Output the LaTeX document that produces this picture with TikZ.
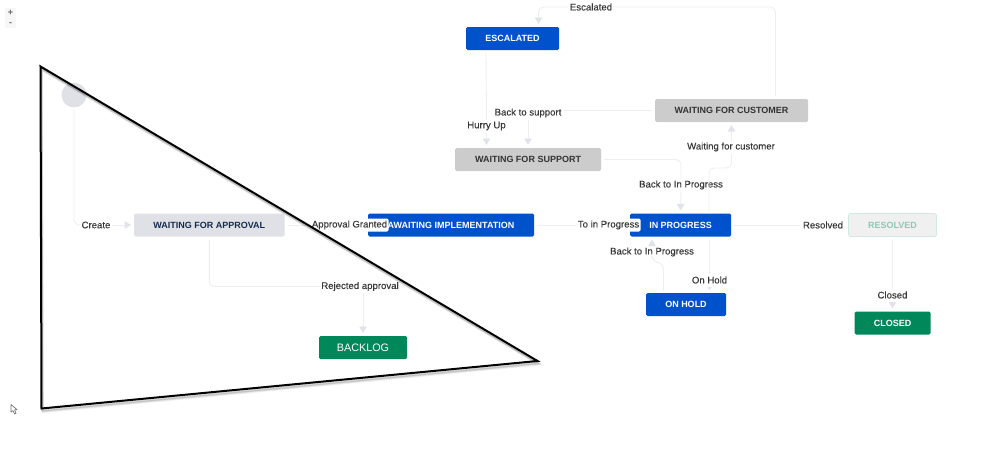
\documentclass[tikz,border=0pt]{standalone}
\usepackage{fontspec}
\setmainfont{Liberation Sans}
\newfontfamily\lblfont[FakeBold=0.1]{Liberation Sans}
\usetikzlibrary{arrows.meta,calc}
\definecolor{jblue}{HTML}{0052CC}
\definecolor{jgreen}{HTML}{00875A}
\definecolor{jgrey}{HTML}{CCCCCC}
\definecolor{jpale}{HTML}{DFE1E6}
\definecolor{jink}{HTML}{172B4D}
\definecolor{jline}{HTML}{EDEEF2}
\definecolor{jhead}{HTML}{E1E3EA}
\tikzset{
  x=1pt,y=-1pt,
  statebox/.style={rounded corners=1.5pt,inner sep=0pt,outer sep=3pt,minimum height=23pt,font=\fontsize{9}{10}\selectfont\bfseries,align=center},
  bluebox/.style={statebox,fill=jblue,text=white},
  greybox/.style={statebox,fill=jgrey,text=black!80},
  lbl/.style={fill=white,rounded corners=1.5pt,inner xsep=1.5pt,inner ysep=0pt,minimum height=13pt,outer sep=0pt,font=\lblfont\fontsize{9.6}{10}\selectfont,text=black!78},
  conn/.style={draw=jline,line width=0.9pt,rounded corners=5pt},
  connarrow/.style={conn,-{Triangle[width=7.5pt,length=6.5pt,color=jhead]}},
  smallarrow/.style={conn,-{Triangle[width=4.5pt,length=3pt,color=jhead]}},
  tri/.style={line width=2pt,line join=miter,black},
}
\begin{document}
\begin{tikzpicture}
\useasboundingbox (0,0) rectangle (999,463);
% zoom control
\fill[black!3] (5,8) rectangle (16,28);
\node[font=\fontsize{9}{9}\selectfont\bfseries,text=black!60,inner sep=0pt] (zin) at (10.5,12.5) {+};
\node[font=\fontsize{9}{9}\selectfont\bfseries,text=black!60,inner sep=0pt] (zout) at (10.5,24) {-};
% states
\node[circle,fill=jpale,minimum size=25pt,inner sep=0pt,outer sep=2pt] (start) at (74,95) {};
\node[statebox,fill=jpale,text=jink,minimum width=150.5pt] (wfa) at (209.3,225) {\raisebox{-1pt}{WAITING FOR APPROVAL}};
\node[bluebox,minimum width=166pt] (impl) at (451,225) {\raisebox{-1pt}{AWAITING IMPLEMENTATION}};
\node[bluebox,minimum width=101pt] (prog) at (680.5,225) {\raisebox{-1pt}{IN PROGRESS}};
\node[bluebox,minimum width=93pt] (esc) at (512.5,38.5) {\raisebox{-1pt}{ESCALATED}};
\node[greybox,minimum width=146pt] (wfs) at (528,159.5) {\raisebox{-1pt}{WAITING FOR SUPPORT}};
\node[greybox,minimum width=153pt] (wfc) at (731.5,110.5) {\raisebox{-1pt}{WAITING FOR CUSTOMER}};
\node[bluebox,minimum width=80pt] (hold) at (686,304.5) {\raisebox{-1pt}{ON HOLD}};
\node[statebox,fill=jgreen,text=white,minimum width=76pt] (closed) at (892.5,323) {\raisebox{-1pt}{CLOSED}};
\node[statebox,fill=black!6,draw=jgreen!18,line width=0.6pt,text=jgreen!45,minimum width=88pt] (res) at (892.5,225) {\raisebox{-1pt}{RESOLVED}};
\node[statebox,fill=jgreen,text=white,minimum width=88pt,font=\fontsize{10.8}{12}\selectfont] (back) at (363,347.5) {\raisebox{-1pt}{BACKLOG}};
% labels
\node[lbl] (lcreate) at (96,225) {\raisebox{-.6pt}{Create}};
\node[lbl] (lappr) at (349.5,225) {\raisebox{-.6pt}{Approval Granted}};
\node[lbl] (lrej) at (360,286.5) {\raisebox{-.6pt}{Rejected approval}};
\node[lbl] (lto) at (608.5,225) {\raisebox{-.6pt}{To in Progress}};
\node[lbl] (lres) at (823,225) {\raisebox{-.6pt}{Resolved}};
\node[lbl] (lclosed) at (892.5,295) {\raisebox{-.6pt}{Closed}};
\node[lbl] (lhold) at (709.5,280) {\raisebox{-.6pt}{On Hold}};
\node[lbl] (lback2) at (652,252) {\raisebox{-.6pt}{Back to In Progress}};
\node[lbl] (lback1) at (681,185) {\raisebox{-.6pt}{Back to In Progress}};
\node[lbl] (lwait) at (731,147) {\raisebox{-.6pt}{Waiting for customer}};
\node[lbl] (lbsup) at (528,113) {\raisebox{-.6pt}{Back to support}};
\node[lbl] (lhurry) at (486.5,126) {\raisebox{-.6pt}{Hurry Up}};
\node[lbl] (lesc) at (591,7) {\raisebox{-.6pt}{Escalated}};
% connectors
\draw[conn] (start.south) |- (lcreate.west);
\draw[connarrow] (lcreate.east) -- (wfa.west);
\draw[conn] (wfa.east) -- (lappr.west);
\draw[conn] (wfa.south) |- (lrej.west);
\draw[connarrow] (lrej.south -| back.north) -- (back.north);
\draw[conn] (impl.east) -- (lto.west);
\draw[conn] (prog.east) -- (lres.west);
\draw[conn] (res.south) -- (lclosed.north);
\draw[connarrow] (lclosed.south) -- (closed.north);
\draw[conn] (prog.south -| lhold.north) -- (lhold.north);
\draw[smallarrow] (lhold.south) -- (lhold.south |- hold.north);
\coordinate (b2a) at (663.5,291);
\coordinate (b2b) at (663.5,264);
\coordinate (b2c) at (652,261);
\draw[conn] (b2a) -- (b2b) -- (b2c) -- (lback2.south);
\draw[connarrow] (lback2.north) -- (lback2.north |- prog.south);
\draw[conn] (wfs.east) -| (lback1.north);
\draw[connarrow] (lback1.south) -- (prog.north);
\coordinate (wa) at (709,168);
\coordinate (wb) at (731.5,168);
\draw[conn] (prog.north -| wa) -- (wa) -- (wb) -- (wb |- lwait.south);
\draw[connarrow] (wb |- lwait.north) -- (wb |- wfc.south);
\draw[conn] (wfc.west) -- (wfc.west -| lbsup.east);
\draw[connarrow] (lbsup.south) -- (wfs.north);
\coordinate (hx) at (486,0);
\draw[conn] (esc.south -| hx) -- (lhurry.north);
\draw[connarrow] (lhurry.south) -- (lhurry.south |- wfs.north);
\coordinate (ex) at (775.5,0);
\coordinate (ey) at (538.5,24);
\draw[conn] (wfc.north -| ex) |- (lesc.east);
\draw[connarrow] (lesc.west) -| (ey);
% triangle drawn over the picture
\coordinate (ta) at (40.5,66.5);
\coordinate (tb) at (537.5,361);
\coordinate (tc) at (41.5,408.5);
\foreach \d/\o in {3.6/.05,2.8/.09,2/.14}{
  \draw[line width=2pt,black,opacity=\o] ($(ta)+(\d*0.4,\d)$) -- ($(tb)+(\d*0.4,\d)$) -- ($(tc)+(\d*0.4,\d)$) -- cycle;
}
\draw[tri] (ta) -- (tb) -- (tc) -- cycle;
% mouse pointer
\draw[black!55,fill=white,line width=0.7pt,line join=round] (11,404.5) -- (11,412) -- (13,410.6) -- (14.5,414) -- (16,413.2) -- (14.6,410) -- (17,409.6) -- cycle;
\end{tikzpicture}
\end{document}
